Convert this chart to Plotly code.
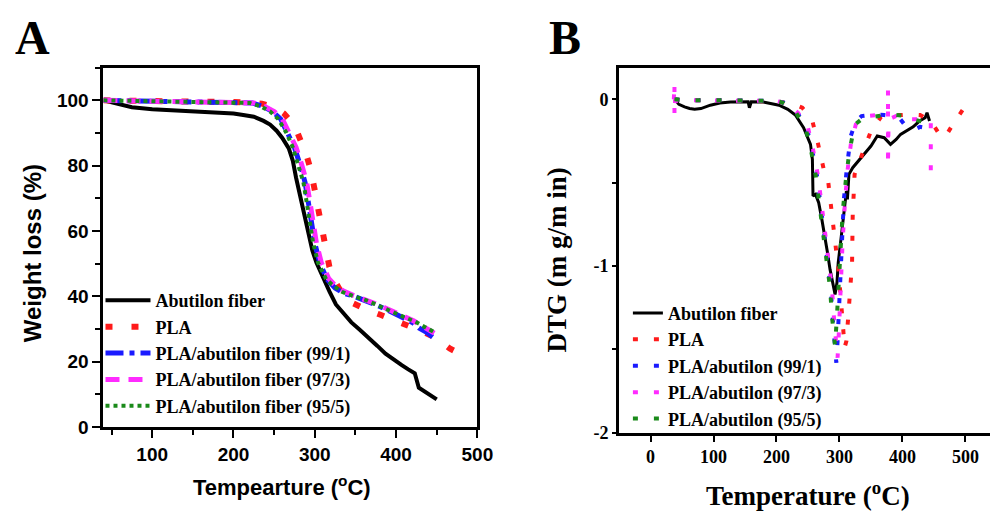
import plotly.graph_objects as go

# ---------------- Panel A : TGA (weight loss %) ----------------
t_fiber_a = [40, 50, 60, 75, 100, 150, 200, 212, 225, 237, 245, 253, 260, 268, 273, 277, 282, 286,
             292, 297, 302, 310, 318, 326, 334, 345, 355, 367, 377, 387, 397, 407, 415, 423, 428,
             437, 447, 450]
w_fiber_a = [100, 99.4, 98.7, 97.9, 97.3, 96.7, 96.0, 95.5, 95.0, 93.7, 92.6, 90.7, 88.5, 85.3,
             81.5, 76.3, 70.5, 66.0, 58.4, 54.0, 50.3, 45.5, 41.5, 37.5, 35.0, 32.0, 29.8, 27.2,
             24.8, 22.4, 20.5, 18.9, 17.6, 16.4, 12.0, 10.6, 8.8, 8.4]

t_pla_a = [40, 100, 150, 200, 217, 235, 251, 262, 270, 278, 284, 290, 294, 298, 301, 304, 307,
           310, 313, 318, 324, 332, 343, 355, 367, 380, 391, 402, 413, 430, 447, 466, 490]
w_pla_a = [100, 99.8, 99.7, 99.6, 99.4, 99.0, 97.9, 96.0, 93.7, 90.5, 87.1, 83.0, 79.6, 75.5,
           71.3, 67.0, 62.8, 58.5, 54.2, 49.0, 45.0, 41.5, 38.3, 36.8, 35.6, 34.4, 33.3, 32.3,
           31.4, 29.5, 27.5, 24.0, 20.9]

t_991_a = [40, 100, 150, 200, 223, 236, 248, 258, 267, 275, 282, 288, 292, 296, 300, 306, 315,
           325, 335, 348, 362, 374, 386, 398, 410, 420, 428, 436, 445]
w_991_a = [100, 99.7, 99.6, 99.5, 99.2, 98.2, 96.6, 94.3, 90.1, 85.6, 80.2, 74.9, 68.9, 62.3,
           56.3, 50.3, 45.2, 42.5, 41.0, 40.0, 38.8, 37.5, 36.2, 34.8, 33.4, 32.0, 30.3, 29.2, 27.5]

t_973_a = [40, 100, 150, 200, 225, 238, 250, 260, 269, 277, 284, 290, 294, 298, 302, 308, 317,
           326, 336, 348, 362, 374, 386, 398, 410, 422, 435, 447]
w_973_a = [100, 99.8, 99.7, 99.6, 99.2, 98.2, 96.6, 94.3, 90.1, 85.6, 80.2, 74.9, 68.9, 62.3,
           56.3, 50.3, 45.5, 43.0, 41.5, 40.2, 39.0, 37.8, 36.5, 35.2, 33.8, 32.4, 30.5, 28.7]

t_955_a = [40, 100, 150, 200, 220, 233, 245, 255, 265, 273, 280, 286, 290, 294, 298, 304, 314,
           324, 334, 348, 362, 374, 386, 398, 410, 423, 435, 447]
w_955_a = [100, 99.7, 99.6, 99.5, 99.2, 98.2, 96.6, 94.3, 90.1, 85.6, 80.2, 74.9, 68.9, 62.3,
           56.3, 50.3, 45.2, 43.0, 41.3, 40.0, 38.9, 37.6, 36.2, 35.0, 33.6, 32.3, 30.6, 29.0]

names_a = ["Abutilon fiber", "PLA", "PLA/abutilon fiber (99/1)",
           "PLA/abutilon fiber (97/3)", "PLA/abutilon fiber (95/5)"]

# ---------------- Panel B : DTG (mg/min) ----------------
t_fiber_b = [38, 45, 54, 62, 70, 80, 95, 110, 127, 145, 155, 157, 160, 179, 204, 218, 230, 243,
             254, 257, 258, 262, 267, 272, 277, 281, 285, 290, 293, 296, 298, 302, 306, 309, 311,
             312.6, 315, 321, 330, 340, 350, 360, 371, 381, 390, 397, 407, 417, 427, 436, 439, 443]
d_fiber_b = [0, -0.03, -0.045, -0.055, -0.059, -0.055, -0.035, -0.022, -0.016, -0.014, -0.015,
             -0.05, -0.015, -0.016, -0.035, -0.06, -0.094, -0.17, -0.27, -0.36, -0.58, -0.57,
             -0.62, -0.72, -0.82, -0.92, -1.02, -1.13, -1.17, -1.1, -0.98, -0.85, -0.72, -0.62,
             -0.55, -0.6, -0.45, -0.41, -0.37, -0.33, -0.28, -0.22, -0.23, -0.27, -0.24, -0.21,
             -0.19, -0.165, -0.13, -0.11, -0.08, -0.13]

t_pla_b = [38, 60, 100, 150, 200, 225, 241, 250, 257, 265, 272, 278, 282, 285, 288, 291, 293,
           296, 298, 301, 304, 306, 308, 311, 314, 316, 318, 320, 321, 324, 334, 350, 366, 380,
           397, 412, 428, 440, 449, 457, 464, 472, 480, 490, 498]
d_pla_b = [0, -0.005, -0.005, -0.01, -0.012, -0.025, -0.05, -0.09, -0.13, -0.25, -0.37, -0.47,
           -0.49, -0.6, -0.68, -0.8, -0.88, -0.95, -1.0, -1.12, -1.25, -1.38, -1.49, -1.45, -1.3,
           -1.17, -1.08, -0.98, -0.7, -0.45, -0.35, -0.19, -0.105, -0.095, -0.094, -0.09,
           -0.094, -0.12, -0.153, -0.2, -0.23, -0.2, -0.15, -0.094, -0.05]

t_991_b = [38, 60, 100, 150, 200, 212, 232, 248, 256, 264, 271, 279, 286, 290, 293, 295, 297,
           300, 303, 307, 312, 318, 326, 335, 345, 358, 371, 384, 397, 405, 412, 420, 428, 435, 440]
d_991_b = [0, -0.005, -0.005, -0.005, -0.01, -0.02, -0.074, -0.17, -0.29, -0.45, -0.66, -0.9,
           -1.13, -1.35, -1.55, -1.58, -1.45, -1.15, -0.85, -0.6, -0.4, -0.22, -0.13, -0.1,
           -0.095, -0.09, -0.094, -0.1, -0.12, -0.16, -0.17, -0.18, -0.165, -0.17, -0.15]

t_973_b = [37, 38, 38, 39, 60, 100, 150, 200, 215, 234, 250, 258, 266, 273, 281, 288, 292, 295,
           297, 299, 302, 305, 309, 313, 318, 326, 335, 345, 358, 370, 377, 377, 377, 378, 390,
           400, 412, 425, 437, 445, 445]
d_973_b = [0, 0.1, -0.1, -0.01, -0.005, -0.005, -0.005, -0.01, -0.025, -0.08, -0.17, -0.3,
           -0.46, -0.66, -0.9, -1.13, -1.35, -1.52, -1.55, -1.4, -1.1, -0.85, -0.6, -0.42, -0.27,
           -0.15, -0.12, -0.1, -0.095, -0.09, -0.07, 0.06, -0.4, -0.12, -0.1, -0.1, -0.12,
           -0.12, -0.13, -0.13, -0.52]

t_955_b = [38, 60, 100, 150, 200, 210, 230, 246, 254, 262, 269, 277, 285, 288, 291, 293, 296,
           300, 305, 311, 316, 324, 335, 345, 358, 371, 384, 397, 407, 417, 428, 438]
d_955_b = [0, -0.005, -0.005, -0.005, -0.01, -0.02, -0.074, -0.17, -0.29, -0.45, -0.66, -0.9,
           -1.13, -1.3, -1.45, -1.48, -1.3, -0.98, -0.68, -0.45, -0.31, -0.153, -0.12, -0.11,
           -0.1, -0.094, -0.092, -0.094, -0.1, -0.12, -0.13, -0.14]

names_b = ["Abutilon fiber", "PLA", "PLA/abutilon (99/1)",
           "PLA/abutilon (97/3)", "PLA/abutilon (95/5)"]

colors = ["black", "#ff1a1a", "#1a1aff", "#ff2bff", "#1a8a1a"]

W, H = 998, 516
SANS = "Liberation Sans"
SERIF = "Liberation Serif"

fig = go.Figure()

styles_a = [dict(width=4, dash="solid"),
            dict(width=6, dash="7px,19px"),
            dict(width=5, dash="18px,6px,5px,6px"),
            dict(width=5, dash="14px,9px"),
            dict(width=4, dash="4px,4px")]
data_a = [(t_fiber_a, w_fiber_a), (t_pla_a, w_pla_a), (t_991_a, w_991_a),
          (t_973_a, w_973_a), (t_955_a, w_955_a)]
for (tx, ty), nm, c, st in zip(data_a, names_a, colors, styles_a):
    fig.add_trace(go.Scatter(x=tx, y=ty, name=nm, mode="lines",
                             line=dict(color=c, **st), xaxis="x", yaxis="y",
                             legend="legend"))

styles_b = [dict(width=3, dash="solid"),
            dict(width=4, dash="5px,16px"),
            dict(width=4, dash="5px,16px"),
            dict(width=4, dash="5px,16px"),
            dict(width=4, dash="5px,16px")]
data_b = [(t_fiber_b, d_fiber_b), (t_pla_b, d_pla_b), (t_991_b, d_991_b),
          (t_973_b, d_973_b), (t_955_b, d_955_b)]
for (tx, ty), nm, c, st in zip(data_b, names_b, colors, styles_b):
    fig.add_trace(go.Scatter(x=tx, y=ty, name=nm, mode="lines",
                             line=dict(color=c, **st), xaxis="x2", yaxis="y2",
                             legend="legend2"))

def px_x(p):
    return p / W

def px_y(p):
    return 1 - p / H

tickA = dict(family=SANS, size=19, color="black", weight="bold")
tickB = dict(family=SERIF, size=18, color="black", weight="bold")

fig.update_layout(
    width=W, height=H,
    margin=dict(l=0, r=0, t=0, b=0),
    paper_bgcolor="white", plot_bgcolor="white",
    xaxis=dict(domain=[px_x(97), px_x(477)], range=[40, 500], anchor="y",
               showline=True, linewidth=3, linecolor="black", mirror=True,
               showgrid=False, zeroline=False,
               tickvals=[100, 200, 300, 400, 500], ticks="outside", ticklen=8, tickwidth=2,
               tickcolor="black", tickfont=tickA,
               minor=dict(dtick=50, tick0=0, ticks="outside", ticklen=5, tickwidth=2,
                          tickcolor="black", showgrid=False)),
    yaxis=dict(domain=[px_y(428), px_y(61)], range=[0, 110], anchor="x",
               showline=True, linewidth=3, linecolor="black", mirror=True,
               showgrid=False, zeroline=False,
               tickvals=[0, 20, 40, 60, 80, 100], ticks="outside", ticklen=8, tickwidth=2,
               tickcolor="black", tickfont=tickA,
               minor=dict(dtick=10, tick0=0, ticks="outside", ticklen=5, tickwidth=2,
                          tickcolor="black", showgrid=False)),
    xaxis2=dict(domain=[px_x(621), 1.0], range=[-50, 539], anchor="y2",
                showline=True, linewidth=3, linecolor="black", mirror=True,
                showgrid=False, zeroline=False,
                tickvals=[0, 100, 200, 300, 400, 500], ticks="outside", ticklen=6,
                tickwidth=2, tickcolor="black", tickfont=tickB),
    yaxis2=dict(domain=[px_y(434), px_y(61)], range=[-2, 0.19], anchor="x2",
                showline=True, linewidth=3, linecolor="black", mirror=False,
                showgrid=False, zeroline=False,
                tickvals=[0, -1, -2], ticktext=["0", "-1", "-2"], ticks="outside",
                ticklen=4, tickwidth=2, tickcolor="black", tickfont=tickB,
                minor=dict(dtick=0.5, tick0=0, ticks="outside", ticklen=4, tickwidth=2,
                           tickcolor="black", showgrid=False)),
    legend=dict(x=px_x(94), y=px_y(280), xanchor="left", yanchor="top",
                bgcolor="rgba(0,0,0,0)", borderwidth=0, itemwidth=45,
                font=dict(family=SERIF, size=18, color="black", weight="bold"),
                itemclick=False, itemdoubleclick=False),
    legend2=dict(x=px_x(630), y=px_y(293), xanchor="left", yanchor="top",
                 bgcolor="rgba(0,0,0,0)", borderwidth=0,
                 font=dict(family=SERIF, size=18, color="black", weight="bold"),
                 itemclick=False, itemdoubleclick=False),
    showlegend=True,
)

annots = [
    dict(text="A", x=px_x(25), y=px_y(30), height=48,
         font=dict(family=SERIF, size=48, color="black", weight="bold")),
    dict(text="B", x=px_x(566), y=px_y(30), height=48,
         font=dict(family=SERIF, size=48, color="black", weight="bold")),
    dict(text="Tempearture (<sup>o</sup>C)", x=px_x(278), y=px_y(488),
         font=dict(family=SANS, size=22, color="black", weight="bold")),
    dict(text="Weight loss (%)", x=px_x(25), y=px_y(251), textangle=-90,
         font=dict(family=SANS, size=24, color="black", weight="bold")),
    dict(text="Temperature (<sup>o</sup>C)", x=px_x(813), y=px_y(497),
         font=dict(family=SERIF, size=27, color="black", weight="bold")),
    dict(text="DTG (m g/m in)", x=px_x(557), y=px_y(258), textangle=-90,
         font=dict(family=SERIF, size=27, color="black", weight="bold")),
]
for a in annots:
    fig.add_annotation(xref="paper", yref="paper", showarrow=False,
                       xanchor="center", yanchor="middle", **a)

fig.write_html("out.html")
